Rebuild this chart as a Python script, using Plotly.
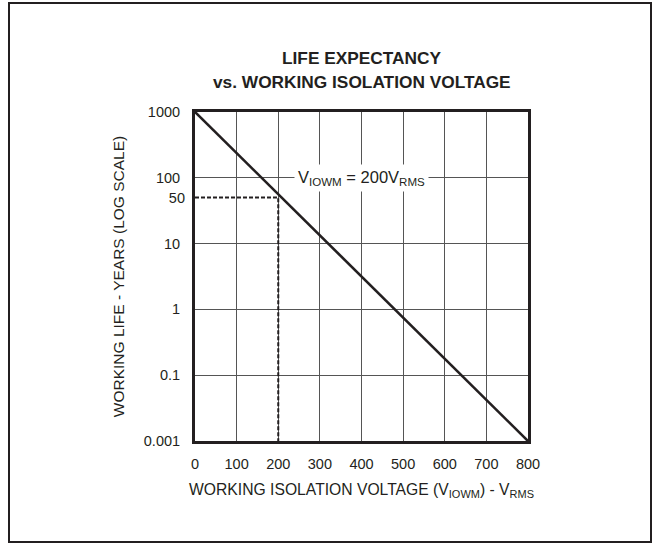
import plotly.graph_objects as go

# ---- data ----
voltage = [0, 800]                 # V_RMS
life_years = [1000, 0.01]          # years (log scale)
marker_voltage = [0, 200, 200]
marker_life = [50, 50, 0.01]
x_ticks = [0, 100, 200, 300, 400, 500, 600, 700, 800]
y_ticks = [1000, 100, 10, 1, 0.1, 0.01]
y_tick_text = ["1000", "100", "10", "1", "0.1", "0.001"]
y_extra_ticks = [50]
y_extra_text = ["50"]
title_lines = ["LIFE EXPECTANCY", "vs. WORKING ISOLATION VOLTAGE"]
annotation_text = "V<sub>IOWM</sub> = 200V<sub>RMS</sub>"

W, H = 654, 543
L, R, T, B = 195, 126, 112, 102
FONT = "Liberation Sans, Arial, sans-serif"
TXT = "#231f20"

fig = go.Figure()
fig.add_trace(go.Scatter(x=voltage, y=life_years, mode="lines",
                         line=dict(color="#231f20", width=2.6),
                         showlegend=False, hoverinfo="skip", cliponaxis=False))
fig.add_trace(go.Scatter(x=marker_voltage, y=marker_life, mode="lines",
                         line=dict(color="#231f20", width=2, dash="4px,2px"),
                         showlegend=False, hoverinfo="skip", yaxis="y2"))

fig.add_annotation(x=400, y=2, xref="x", yref="y", text=annotation_text,
                   showarrow=False, bgcolor="white", borderpad=3,
                   font=dict(family=FONT, size=16.5, color=TXT))


def px_x(p):
    return (p - L) / (W - L - R)


def px_y(p):
    return (H - B - p) / (H - T - B)


for line, ypx in zip(title_lines, [58, 82]):
    fig.add_annotation(x=0.5, y=px_y(ypx), xref="paper", yref="paper",
                       xanchor="center", yanchor="middle", showarrow=False,
                       text="<b>%s</b>" % line,
                       font=dict(family=FONT, size=17.3, color=TXT))

fig.add_shape(type="rect", xref="paper", yref="paper",
              x0=px_x(9), x1=px_x(651), y0=px_y(542), y1=px_y(3),
              line=dict(color="#231f20", width=2), layer="below")

axis_common = dict(showline=True, linecolor="#231f20", linewidth=3, mirror=True,
                   ticks="", zeroline=False,
                   tickfont=dict(family=FONT, size=14.5, color=TXT))

fig.update_layout(
    width=W, height=H,
    margin=dict(l=L, r=R, t=T, b=B),
    paper_bgcolor="white", plot_bgcolor="white",
    xaxis=dict(range=[0, 800], tickvals=x_ticks, showgrid=True,
               gridcolor="#555555", gridwidth=1, ticklabelstandoff=8,
               title=dict(text="WORKING ISOLATION VOLTAGE (V<sub>IOWM</sub>) - V<sub>RMS</sub>",
                          font=dict(family=FONT, size=15.7, color=TXT), standoff=13),
               **axis_common),
    yaxis=dict(type="log", range=[-2, 3], tickvals=y_ticks, ticktext=y_tick_text,
               showgrid=True, gridcolor="#555555", gridwidth=1, ticklabelstandoff=9,
               title=dict(text="WORKING LIFE - YEARS (LOG SCALE)",
                          font=dict(family=FONT, size=15.5, color=TXT), standoff=16),
               **axis_common),
    yaxis2=dict(type="log", range=[-2, 3], overlaying="y", side="left",
                tickvals=y_extra_ticks, ticktext=y_extra_text, showgrid=False,
                showline=False, zeroline=False, ticks="", ticklabelstandoff=9,
                tickfont=dict(family=FONT, size=14.5, color=TXT)),
)

fig.write_html("out.html", config={"displayModeBar": False},
               post_script="document.body.style.margin='0px';")
